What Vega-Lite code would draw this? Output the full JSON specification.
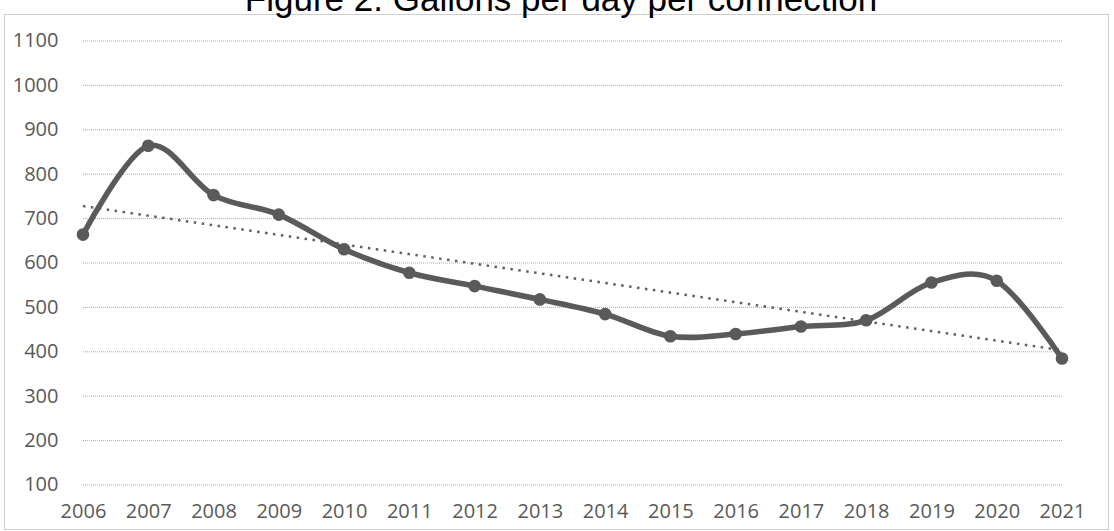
{
  "$schema": "https://vega.github.io/schema/vega-lite/v6.json",
  "width": 1104,
  "height": 515,
  "autosize": {"type": "none"},
  "padding": {"left": 4, "top": 14, "right": 6, "bottom": 2},
  "background": "white",
  "title": {
    "text": "Figure 2. Gallons per day per connection",
    "font": "Liberation Sans",
    "fontSize": 35,
    "fontWeight": "normal",
    "color": "#000000",
    "anchor": "middle",
    "offset": 0,
    "baseline": "alphabetic",
    "dy": 32,
    "dx": 5
  },
  "config": {
    "view": {"stroke": "#9a9a9a", "strokeDash": [1, 1], "strokeWidth": 1}
  },
  "datasets": {
    "series": [
      {"year": 2006, "gallons": 664},
      {"year": 2007, "gallons": 864},
      {"year": 2008, "gallons": 753},
      {"year": 2009, "gallons": 709},
      {"year": 2010, "gallons": 631},
      {"year": 2011, "gallons": 578},
      {"year": 2012, "gallons": 548},
      {"year": 2013, "gallons": 518},
      {"year": 2014, "gallons": 485},
      {"year": 2015, "gallons": 435},
      {"year": 2016, "gallons": 440},
      {"year": 2017, "gallons": 457},
      {"year": 2018, "gallons": 471},
      {"year": 2019, "gallons": 556},
      {"year": 2020, "gallons": 560},
      {"year": 2021, "gallons": 385}
    ],
    "grid": [
      {"level": 100}, {"level": 200}, {"level": 300}, {"level": 400},
      {"level": 500}, {"level": 600}, {"level": 700}, {"level": 800},
      {"level": 900}, {"level": 1000}, {"level": 1100}
    ]
  },
  "layer": [
    {
      "data": {"name": "grid"},
      "mark": {"type": "rule", "color": "#a8a8a8", "strokeWidth": 1, "strokeDash": [1, 1]},
      "encoding": {
        "y": {
          "field": "level", "type": "quantitative", "title": null,
          "scale": {"domain": [0.9, 1160.8], "nice": false, "zero": false},
          "axis": {"values": [100, 200, 300, 400, 500, 600, 700, 800, 900, 1000, 1100], "format": "d", "grid": false, "domain": false, "ticks": false, "labelPadding": 0, "offset": -54, "labelFont": "Open Sans", "labelFontSize": 20, "labelColor": "#595959", "title": null}
        },
        "x": {
          "datum": 2006, "type": "quantitative", "title": null,
          "scale": {"domain": [2004.79, 2021.705], "nice": false, "zero": false},
          "axis": {"values": [2006, 2007, 2008, 2009, 2010, 2011, 2012, 2013, 2014, 2015, 2016, 2017, 2018, 2019, 2020, 2021], "format": "d", "grid": false, "domain": false, "ticks": false, "labelPadding": 0, "offset": -28, "labelFont": "Open Sans", "labelFontSize": 20, "labelColor": "#595959", "labelOverlap": false, "labelFlush": false, "title": null}
        },
        "x2": {"datum": 2021}
      }
    },
    {
      "data": {"name": "series"},
      "transform": [{"regression": "gallons", "on": "year"}],
      "mark": {"type": "line", "color": "#606060", "strokeWidth": 2.5, "strokeDash": [2.5, 5.5]},
      "encoding": {
        "x": {"field": "year", "type": "quantitative", "title": null,
          "axis": {"values": [2006, 2007, 2008, 2009, 2010, 2011, 2012, 2013, 2014, 2015, 2016, 2017, 2018, 2019, 2020, 2021], "format": "d", "grid": false, "domain": false, "ticks": false, "labelPadding": 0, "offset": -28, "labelFont": "Open Sans", "labelFontSize": 20, "labelColor": "#595959", "labelOverlap": false, "labelFlush": false, "title": null}},
        "y": {"field": "gallons", "type": "quantitative", "title": null,
          "axis": {"values": [100, 200, 300, 400, 500, 600, 700, 800, 900, 1000, 1100], "format": "d", "grid": false, "domain": false, "ticks": false, "labelPadding": 0, "offset": -54, "labelFont": "Open Sans", "labelFontSize": 20, "labelColor": "#595959", "title": null}}
      }
    },
    {
      "data": {"name": "series"},
      "mark": {"type": "line", "interpolate": "cardinal", "color": "#5a5a5a", "strokeWidth": 5.5,
        "point": {"filled": true, "size": 160, "color": "#5a5a5a", "opacity": 1}},
      "encoding": {
        "x": {"field": "year", "type": "quantitative", "title": null,
          "axis": {"values": [2006, 2007, 2008, 2009, 2010, 2011, 2012, 2013, 2014, 2015, 2016, 2017, 2018, 2019, 2020, 2021], "format": "d", "grid": false, "domain": false, "ticks": false, "labelPadding": 0, "offset": -28, "labelFont": "Open Sans", "labelFontSize": 20, "labelColor": "#595959", "labelOverlap": false, "labelFlush": false, "title": null}},
        "y": {"field": "gallons", "type": "quantitative", "title": null,
          "axis": {"values": [100, 200, 300, 400, 500, 600, 700, 800, 900, 1000, 1100], "format": "d", "grid": false, "domain": false, "ticks": false, "labelPadding": 0, "offset": -54, "labelFont": "Open Sans", "labelFontSize": 20, "labelColor": "#595959", "title": null}}
      }
    }
  ]
}
